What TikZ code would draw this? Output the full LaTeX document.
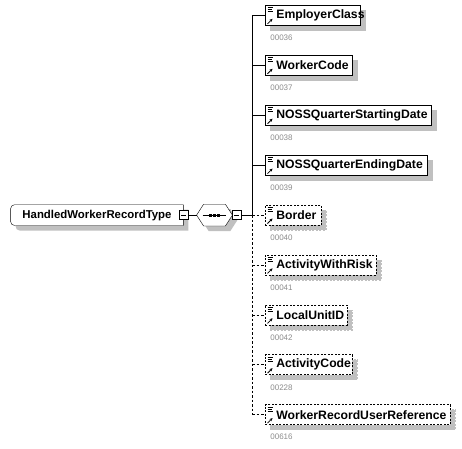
\documentclass[tikz,border=0pt]{standalone}
\usepackage{fontspec}
\setmainfont{Liberation Sans}
\usetikzlibrary{shadows,arrows.meta,backgrounds}
\definecolor{shadowgray}{RGB}{192,192,192}
\definecolor{idgray}{RGB}{140,140,140}
\begin{document}
\begin{tikzpicture}[x=1pt,y=-1pt,line width=0.8pt,
  shad/.style={drop shadow={shadow xshift=5pt,shadow yshift=-5pt,fill=shadowgray,draw=shadowgray,opacity=1}},
  childbox/.style={draw,fill=white,shad,minimum height=20pt,inner xsep=0pt,inner ysep=0pt,
    anchor=west,font=\bfseries\fontsize{12.2}{14}\selectfont},
  optbox/.style={childbox,dash pattern=on 2pt off 1.5pt},
  idtext/.style={anchor=west,inner sep=0pt,text=idgray,font=\fontsize{8}{9}\selectfont},
  minusbox/.style={draw,fill=white,minimum width=9pt,minimum height=9pt,inner sep=0pt,
    path picture={\draw[line width=0.7pt] ([xshift=2pt]path picture bounding box.west) -- ([xshift=-2pt]path picture bounding box.east);}},
  icon/.style={line width=0.6pt},
  conn/.style={line width=0.8pt},
  dconn/.style={line width=0.8pt,dash pattern=on 2.5pt off 2pt}
]
\useasboundingbox (0,0) rectangle (462,448);

% solid children
\foreach \i/\t/\w/\id in {0/EmployerClass/95/00036,1/WorkerCode/87/00037,2/NOSSQuarterStartingDate/166/00038,3/NOSSQuarterEndingDate/162/00039}{
  \pgfmathsetmacro\yy{15.5+49.9*\i}
  \node[childbox] (c\i) at (265,\yy) {\makebox[\w pt][l]{\hspace*{11pt}\t}};
  \node[idtext] (id\i) at (270,\yy+22.5) {\id};
}
% optional children
\foreach \i/\t/\w/\id in {4/Border/56/00040,5/ActivityWithRisk/111/00041,6/LocalUnitID/82/00042,7/ActivityCode/87/00228,8/WorkerRecordUserReference/185/00616}{
  \pgfmathsetmacro\yy{15.5+49.9*\i}
  \node[optbox] (c\i) at (265,\yy) {\makebox[\w pt][l]{\hspace*{11pt}\t}};
  \node[idtext] (id\i) at (270,\yy+22.5) {\id};
}
% icons
\foreach \i in {0,...,8}{
  \draw[icon] ([shift={(2.5,2.5)}]c\i.north west) -- ++(5,0);
  \draw[icon] ([shift={(2.5,4.5)}]c\i.north west) -- ++(4,0);
  \draw[icon] ([shift={(2.5,6.5)}]c\i.north west) -- ++(5,0);
  \draw[icon,line width=0.8pt,-{Stealth[length=3pt,width=3pt]}] ([shift={(2.5,-2)}]c\i.south west) -- ++(5,-5);
}

% main type node
\node[inner sep=0pt,minimum width=172pt,minimum height=20pt,font=\bfseries\fontsize{11.4}{13}\selectfont] (main) at (97,215.1) {HandledWorkerRecordType};
\begin{scope}[on background layer]
  \fill[shadowgray] ([shift={(5,5)}]main.north east) [rounded corners=4pt] -- ([shift={(5,5)}]main.north west) -- ([shift={(5,5)}]main.south west) [sharp corners] -- ([shift={(5,5)}]main.south east) -- cycle;
  \draw[fill=white] (main.north east) [rounded corners=4pt] -- (main.north west) -- (main.south west) [sharp corners] -- (main.south east) -- cycle;
\end{scope}
\node[minusbox] (m1) at (main.east) {};

% sequence compositor
\node[inner sep=0pt,minimum width=35pt,minimum height=21pt] (seq) at (214.5,215.1) {};
\begin{scope}[on background layer]
  \fill[shadowgray] ([shift={(5,5)}]seq.west) -- ([shift={(12,5)}]seq.north west) -- ([shift={(-2,5)}]seq.north east)
     -- ([shift={(5,5)}]seq.east) -- ([shift={(-2,5)}]seq.south east) -- ([shift={(12,5)}]seq.south west) -- cycle;
  \draw[fill=white] (seq.west) -- ([xshift=7pt]seq.north west) -- ([xshift=-7pt]seq.north east)
     -- (seq.east) -- ([xshift=-7pt]seq.south east) -- ([xshift=7pt]seq.south west) -- cycle;
\end{scope}
\draw[line width=0.9pt] ([xshift=6pt]seq.west) -- ([xshift=-6pt]seq.east);
\foreach \dx in {-3.6,0,3.6}{
  \fill ([xshift=\dx pt]seq.center) +(-1.5,-1.6) rectangle +(1.5,1.6);
}
\node[minusbox] (m2) at ([xshift=4.5pt]seq.east) {};

% connectors
\coordinate (vtop) at (252,15.5);
\coordinate (vmid) at (252,215.1);
\draw[conn] (m1.east) -- (seq.west);
\draw[conn] (m2.east) -- (vmid);
\draw[conn] (vtop) -- (vmid);
\draw[dconn] (vmid) -- (vmid |- c8.west);
\foreach \i in {0,...,3}{
  \draw[conn] (vtop |- c\i.west) -- (c\i.west);
}
\foreach \i in {4,...,8}{
  \draw[dconn] (vtop |- c\i.west) -- (c\i.west);
}
\end{tikzpicture}
\end{document}
